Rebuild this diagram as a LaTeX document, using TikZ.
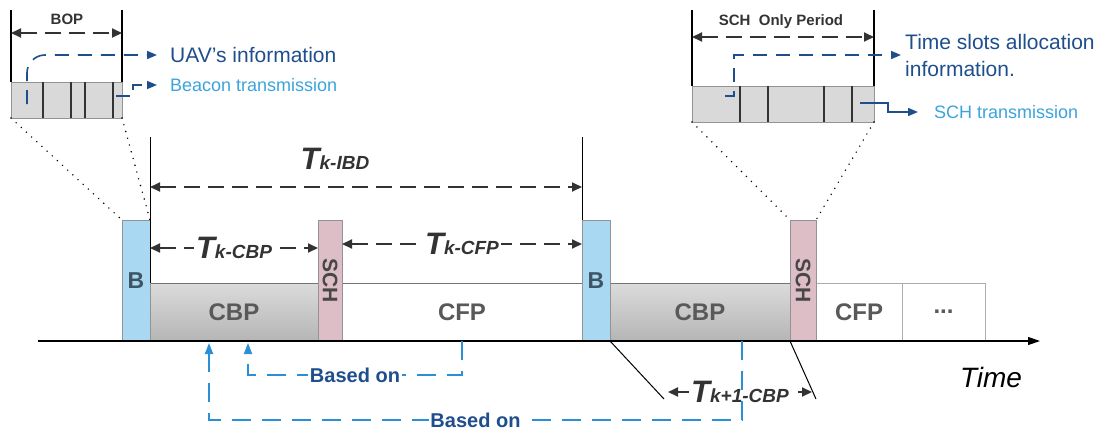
\documentclass[tikz,border=0pt]{standalone}
\usepackage{fontspec}
\setmainfont{Liberation Sans}
\usepackage{tikz}
\usetikzlibrary{arrows.meta}

\definecolor{navy}{HTML}{1F4E8C}
\definecolor{skyblue}{HTML}{3BA3DC}
\definecolor{linkblue}{HTML}{2B8FD6}
\definecolor{beaconfill}{HTML}{A8D8F2}
\definecolor{schfill}{HTML}{DDBDC6}
\definecolor{dimgray}{HTML}{333333}
\definecolor{bluegray}{HTML}{3F5566}

\newcommand{\tdur}[1]{{\fontsize{31}{31}\selectfont\bfseries\itshape T}{\fontsize{19}{19}\selectfont\bfseries\itshape #1}}

\begin{document}
\begin{tikzpicture}[
                x=1pt, y=-1pt,
                box/.style={draw=gray!90!black, line width=0.6pt, inner sep=0pt, outer sep=0pt},
                period/.style={box, minimum height=58pt, text=black!65, font=\fontsize{24}{24}\selectfont\bfseries},
                cbp/.style={period, top color=gray!28, bottom color=gray!58},
                cfp/.style={period, fill=white, draw=gray!65},
                beacon/.style={box, fill=beaconfill, draw=gray!85, minimum width=28pt, minimum height=121pt, text=bluegray, font=\fontsize{23}{23}\selectfont\bfseries},
                sch/.style={box, fill=schfill, draw=gray!85, minimum height=121pt, text=black!72, font=\fontsize{21}{21}\selectfont\bfseries},
                inset/.style={box, fill=gray!30, draw=gray!85, line width=1pt, minimum height=36pt},
                divider/.style={line width=1.6pt, black!80},
                extline/.style={line width=1.5pt, black},
                zoomline/.style={line width=1.6pt, line cap=round, dash pattern=on 0pt off 7pt},
                dim/.style={dimgray, line width=2pt, dash pattern=on 16pt off 8pt, >={Triangle[length=10pt,width=9pt]}, <->},
                dimlbl/.style={fill=white, inner sep=2pt, text=dimgray},
                toplbl/.style={text=dimgray, font=\fontsize{15}{15}\selectfont\bfseries},
                callout/.style={navy, line width=1.6pt, dash pattern=on 14pt off 9pt, -{Triangle[length=10pt,width=8pt]}},
                note/.style={anchor=west, inner sep=0pt, text=navy, font=\fontsize{21}{27}\selectfont},
                subnote/.style={anchor=west, inner sep=0pt, text=skyblue, font=\fontsize{18}{18}\selectfont},
                basedon/.style={linkblue, line width=1.8pt, dash pattern=on 19pt off 11pt, -{Triangle[length=11pt,width=8pt]}},
                basedlbl/.style={fill=white, inner sep=1.5pt, text=navy, font=\fontsize{20}{20}\selectfont\bfseries}
            ]
            \useasboundingbox (0,0) rectangle (1109,432);

            % superframe k and k+1
            \node[cbp, minimum width=168pt] (CBP1) at (234,312) {CBP};
            \node[cfp, draw=gray!90!black, minimum width=240pt] (CFP1) at (462,312) {CFP};
            \node[cbp, minimum width=180pt] (CBP2) at (700,312) {CBP};
            \node[cfp, minimum width=86pt] (CFP2) at (859,312) {CFP};
            \node[cfp, minimum width=83pt] (more) at (943.5,312) {...};

            \node[beacon] (B1) at (136,280.5) {B};
            \node[sch, minimum width=24pt] (SCH1) at (330,280.5) {\rotatebox{-90}{SCH}};
            \node[beacon] (B2) at (596,280.5) {B};
            \node[sch, minimum width=26pt] (SCH2) at (803,280.5) {\rotatebox{-90}{SCH}};

            \coordinate (t0) at (38,341);
            \coordinate (t1) at (1040,341);
            \draw[line width=1.2pt, -{Triangle[length=12pt,width=8pt]}] (t0) -- (t1);
            \node[font=\fontsize{28}{28}\selectfont\itshape] (timelbl) at (991,377) {Time};

            % durations
            \coordinate (ibdL) at (150,137);
            \coordinate (ibdR) at (582,137);
            \draw[line width=1pt] (ibdL) -- (CBP1.north west);
            \draw[line width=1pt] (ibdR) -- (B2.north west);

            \coordinate (ibdA) at (150,187);
            \coordinate (ibdB) at (582,187);
            \draw[dim] (ibdA) -- (ibdB);
            \node[text=dimgray] (ibdlbl) at (335,159) {\tdur{k-IBD}};

            \coordinate (cbpA) at (150,248);
            \coordinate (cbpB) at (318,248);
            \draw[dim] (cbpA) -- node[dimlbl]{\tdur{k-CBP}} (cbpB);

            \coordinate (cfpA) at (342,244);
            \coordinate (cfpB) at (582,244);
            \draw[dim] (cfpA) -- node[dimlbl]{\tdur{k-CFP}} (cfpB);

            \coordinate (k1L) at (664,399);
            \coordinate (k1R) at (816,399);
            \draw[line width=1pt] (B2.south east) -- (k1L);
            \draw[line width=1pt] (SCH2.south west) -- (k1R);
            \coordinate (k1A) at (668,392);
            \coordinate (k1B) at (812,392);
            \draw[dim] (k1A) -- node[dimlbl]{\tdur{k+1-CBP}} (k1B);

            % beacon only period
            \node[inset, minimum width=111pt] (bopbox) at (66.5,100) {};
            \foreach \x in {43,71,85,113}
                \draw[divider] (\x,82) -- (\x,118);
            \coordinate (bopL) at (11,10);
            \coordinate (bopR) at (122,10);
            \draw[extline] (bopL) -- (bopbox.north west);
            \draw[extline] (bopR) -- (bopbox.north east);
            \coordinate (bopA) at (11,33);
            \coordinate (bopB) at (122,33);
            \draw[dim] (bopA) -- (bopB);
            \node[toplbl] (boplbl) at (67,19) {BOP};
            \draw[zoomline] (bopbox.south west) -- (B1.north west);
            \draw[zoomline] (bopbox.south east) -- (B1.north east);

            \node[note] (uavtxt) at (170,55) {UAV's information};
            \node[subnote] (beacontxt) at (170,85) {Beacon transmission};
            \draw[callout, rounded corners=18pt, shorten >=13pt] (27,104) -- (27,55) -- (uavtxt.west);
            \draw[callout, shorten >=13pt] (116,96) -- (133,96) |- (beacontxt.west);

            % SCH only period
            \node[inset, minimum width=182pt] (sopbox) at (783,104) {};
            \foreach \x in {740,768,824,852}
                \draw[divider] (\x,86) -- (\x,122);
            \coordinate (sopL) at (692,10);
            \coordinate (sopR) at (874,10);
            \draw[extline] (sopL) -- (sopbox.north west);
            \draw[extline] (sopR) -- (sopbox.north east);
            \coordinate (sopA) at (692,37);
            \coordinate (sopB) at (874,37);
            \draw[dim] (sopA) -- (sopB);
            \node[toplbl] (soplbl) at (781,22) {SCH~ Only Period};
            \draw[zoomline] (sopbox.south west) -- (SCH2.north west);
            \draw[zoomline] (sopbox.south east) -- (SCH2.north east);

            \node[note, align=left] (slottxt) at (905,55) {Time slots allocation\\information.};
            \node[subnote] (schtxt) at (934,112) {SCH transmission};
            \draw[callout, shorten >=4pt] (725,96) -- (734,96) |- (slottxt.west);
            \draw[callout, solid, shorten >=16pt] (860,103) -- (888,103) |- (schtxt.west);

            % based on
            \coordinate (inCorner) at (248,375);
            \coordinate (inTip) at (248,343);
            \draw[basedon] (CFP1.south) |- node[pos=0.75, basedlbl]{Based on} (inCorner) -- (inTip);

            \coordinate (outStart) at (742,341);
            \coordinate (outCorner) at (209,420);
            \coordinate (outTip) at (209,343);
            \draw[basedon] (outStart) |- node[pos=0.75, basedlbl]{Based on} (outCorner) -- (outTip);
        \end{tikzpicture}
\end{document}
